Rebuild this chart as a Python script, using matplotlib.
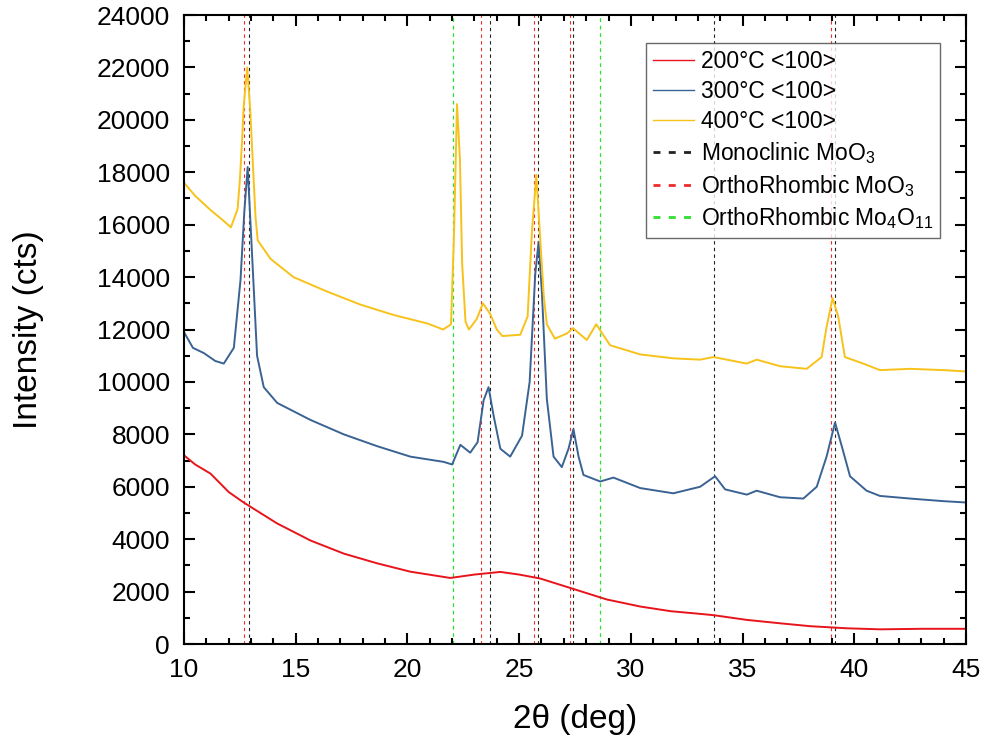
import numpy as np
import matplotlib
matplotlib.use('Agg')
import matplotlib.pyplot as plt
from matplotlib.lines import Line2D

plt.rcParams['font.family'] = ['Liberation Sans', 'DejaVu Sans']
plt.rcParams['mathtext.fontset'] = 'custom'
plt.rcParams['mathtext.rm'] = 'Liberation Sans'
plt.rcParams['mathtext.it'] = 'Liberation Sans:italic'

# 400°C <100>
x_400 = [10.0, 10.5, 11.2, 11.7, 12.1, 12.4, 12.5, 12.6, 12.67, 12.83, 12.97, 13.09, 13.2, 13.3,
         13.87, 14.9, 16.4, 17.9, 19.4, 20.9, 21.6, 21.95, 22.08, 22.22, 22.35, 22.45, 22.6, 22.75,
         23.1, 23.38, 23.7, 24.0, 24.25, 25.05, 25.38, 25.57, 25.77, 25.94, 26.1, 26.24, 26.6,
         27.14, 27.41, 28.03, 28.45, 29.07, 30.42, 31.9, 33.1, 33.7, 35.19, 35.63, 36.68, 37.87,
         38.54, 38.76, 39.03, 39.28, 39.58, 40.4, 41.15, 42.5, 44.0, 45.0]
y_400 = [17600, 17100, 16550, 16200, 15900, 16600, 17700, 19200, 20500, 22000, 20300, 18200, 16300, 15400,
         14700, 14000, 13450, 12950, 12550, 12230, 12000, 12200, 15500, 20600, 18500, 14500, 12300, 12000,
         12400, 13000, 12600, 12000, 11750, 11800, 12500, 15700, 17900, 15500, 13300, 12200, 11650,
         11850, 12050, 11600, 12200, 11400, 11050, 10900, 10850, 10950, 10700, 10850, 10600, 10500,
         10950, 12100, 13200, 12500, 10950, 10700, 10450, 10500, 10450, 10400]

# 300°C <100>
x_300 = [10.0, 10.4, 10.89, 11.4, 11.78, 12.23, 12.53, 12.7, 12.85, 13.05, 13.27, 13.57, 14.17,
         15.66, 17.15, 18.64, 20.13, 21.62, 22.0, 22.37, 22.81, 23.14, 23.41, 23.63, 23.86, 24.16,
         24.6, 25.13, 25.47, 25.72, 25.87, 26.02, 26.24, 26.54, 26.91, 27.21, 27.43, 27.66, 27.88,
         28.63, 29.22, 30.42, 31.9, 33.1, 33.77, 34.22, 35.19, 35.63, 36.68, 37.72, 38.32, 38.76,
         39.14, 39.44, 39.81, 40.55, 41.15, 42.5, 44.0, 45.0]
y_300 = [11900, 11300, 11100, 10800, 10700, 11300, 13900, 16500, 18200, 14800, 11000, 9800, 9200,
         8550, 8000, 7550, 7150, 6950, 6850, 7600, 7300, 7700, 9300, 9800, 8700, 7450,
         7150, 7950, 10000, 14100, 15350, 13400, 9350, 7150, 6750, 7450, 8200, 7150, 6450,
         6200, 6350, 5950, 5750, 6000, 6400, 5900, 5700, 5850, 5600, 5550, 6000, 7150,
         8450, 7550, 6400, 5850, 5650, 5550, 5450, 5400]

# 200°C <100>
x_200 = [10.0, 10.5, 11.19, 12.0, 12.67, 14.17, 15.66, 17.15, 18.64, 20.13, 21.92, 23.0, 24.16,
         25.0, 25.94, 27.43, 28.92, 30.42, 31.8, 33.1, 33.7, 35.19, 36.68, 38.02, 39.66, 41.15,
         43.0, 45.0]
y_200 = [7200, 6850, 6500, 5800, 5400, 4600, 3950, 3450, 3080, 2760, 2520, 2650, 2750,
         2650, 2500, 2100, 1700, 1430, 1250, 1150, 1100, 920, 790, 680, 600, 560,
         580, 580]

# reference peak positions
mono_moo3 = [12.92, 23.68, 25.84, 27.43, 33.7, 39.15]
ortho_moo3 = [12.70, 23.3, 25.67, 27.27, 38.95]
ortho_mo4o11 = [22.04, 28.6]

c_200 = '#e8141b'
c_300 = '#3a6394'
c_400 = '#f7c21a'
c_mono = '#222222'
c_ortho = '#ee2a2a'
c_mo4 = '#2ee02e'

fig = plt.figure(figsize=(9.85, 7.44), dpi=100)
ax = fig.add_axes([0.1868, 0.1344, 0.7939, 0.8454])

for xv in mono_moo3:
    ax.axvline(xv, color=c_mono, ls=(0, (3, 3)), lw=0.8, zorder=1)
for xv in ortho_moo3:
    ax.axvline(xv, color=c_ortho, ls=(0, (3, 3)), lw=0.8, zorder=1)
for xv in ortho_mo4o11:
    ax.axvline(xv, color=c_mo4, ls=(0, (3, 3)), lw=0.9, zorder=1)

ax.plot(x_200, y_200, color=c_200, lw=1.4, zorder=2)
ax.plot(x_300, y_300, color=c_300, lw=1.4, zorder=2)
ax.plot(x_400, y_400, color=c_400, lw=1.4, zorder=2)

ax.set_xlim(10, 45)
ax.set_ylim(0, 24000)
ax.set_xticks(np.arange(10, 46, 5))
ax.set_xticks(np.arange(10, 46, 1), minor=True)
ax.set_yticks(np.arange(0, 24001, 2000))
ax.set_yticks(np.arange(0, 24001, 1000), minor=True)
ax.tick_params(which='both', direction='in', top=True, right=True, width=1.5, labelsize=19)
ax.tick_params(which='major', length=8, pad=10)
ax.tick_params(which='minor', length=4.5)
for sp in ax.spines.values():
    sp.set_linewidth(1.5)

ax.set_xlabel('2θ (deg)', fontsize=24, labelpad=16)
ax.set_ylabel('Intensity (cts)', fontsize=24, labelpad=38)

handles = [
    Line2D([], [], color=c_200, lw=1.0),
    Line2D([], [], color=c_300, lw=1.0),
    Line2D([], [], color=c_400, lw=1.0),
    Line2D([], [], color=c_mono, lw=2, ls=(0, (2.5, 3))),
    Line2D([], [], color=c_ortho, lw=2, ls=(0, (2.5, 3))),
    Line2D([], [], color=c_mo4, lw=2, ls=(0, (2.5, 3))),
]
labels = ['200°C <100>', '300°C <100>', '400°C <100>',
          'Monoclinic MoO$_3$', 'OrthoRhombic MoO$_3$', 'OrthoRhombic Mo$_4$O$_{11}$']
leg = ax.legend(handles, labels, loc='upper right', bbox_to_anchor=(0.967, 0.955),
                fontsize=16.5, frameon=True, fancybox=False, handlelength=1.8,
                handletextpad=0.3, labelspacing=0.3, borderpad=0.3, borderaxespad=0)
leg.get_frame().set_edgecolor('#444444')
leg.get_frame().set_linewidth(1.0)

fig.savefig('out.png', dpi=100)
